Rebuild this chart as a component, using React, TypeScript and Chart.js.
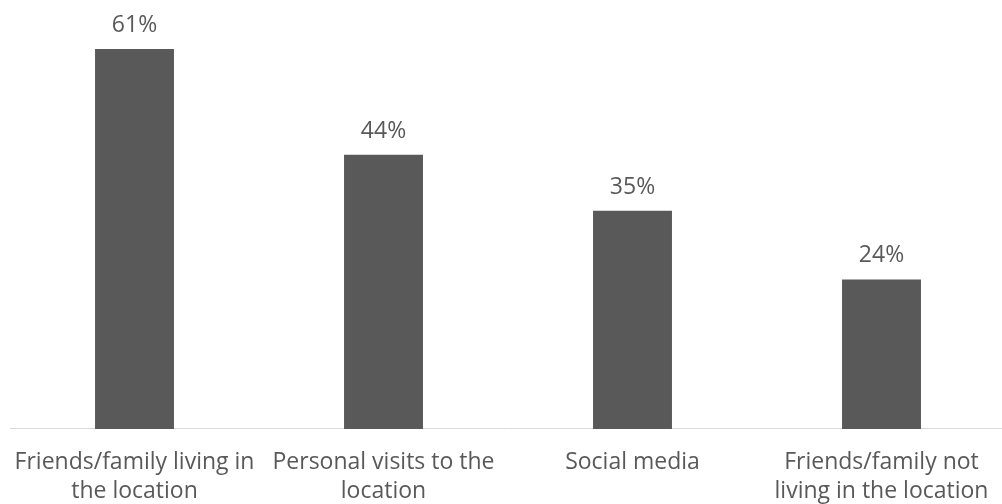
import React, { useEffect, useRef } from "react";
import { Chart, registerables } from "chart.js";

Chart.register(...registerables);

const categories: string[][] = [
  ["Friends/family living in", "the location"],
  ["Personal visits to the", "location"],
  ["Social media"],
  ["Friends/family not", "living in the location"],
];
const values: number[] = [61, 44, 35, 24];
const valueLabels: string[] = ["61%", "44%", "35%", "24%"];

const FONT = "'Open Sans', 'Noto Sans', sans-serif";
const TEXT = "#595959";

const valueLabelPlugin = {
  id: "valueLabels",
  afterDatasetsDraw(chart: any) {
    const ctx = chart.ctx;
    const meta = chart.getDatasetMeta(0);
    ctx.save();
    ctx.font = `23px ${FONT}`;
    ctx.fillStyle = TEXT;
    ctx.textAlign = "center";
    ctx.textBaseline = "alphabetic";
    meta.data.forEach((bar: any, i: number) => {
      ctx.fillText(valueLabels[i], bar.x, bar.y - 17);
    });
    ctx.restore();
  },
};

export default function App() {
  const ref = useRef<HTMLCanvasElement>(null);
  useEffect(() => {
    document.body.style.margin = "0";
    document.body.style.overflow = "hidden";
    const chart = new Chart(ref.current!, {
      type: "bar",
      data: {
        labels: categories as any,
        datasets: [
          {
            data: values,
            backgroundColor: "#595959",
            borderWidth: 0,
            barPercentage: 0.317,
            categoryPercentage: 1,
          },
        ],
      },
      options: {
        animation: false,
        responsive: false,
        maintainAspectRatio: false,
        layout: { padding: { left: 10, right: 0, top: 24, bottom: 0 } },
        plugins: {
          legend: { display: false },
          tooltip: { enabled: false },
        },
        scales: {
          x: {
            grid: { display: false, drawTicks: false },
            border: { display: true, color: "#d9d9d9", width: 1 },
            ticks: {
              color: TEXT,
              font: { family: FONT, size: 23, lineHeight: 1.22 },
              padding: 20,
              maxRotation: 0,
              autoSkip: false,
            },
            afterFit: (scale: any) => {
              scale.paddingLeft = 0;
              scale.paddingRight = 0;
            },
          },
          y: {
            display: false,
            min: 0,
            max: 65,
          },
        },
      },
      plugins: [valueLabelPlugin],
    });
    return () => chart.destroy();
  }, []);
  return (
    <div style={{ position: "absolute", left: 0, top: 0, width: 1006, height: 525 }}>
      <canvas ref={ref} width={1006} height={525} style={{ display: "block" }} />
    </div>
  );
}
